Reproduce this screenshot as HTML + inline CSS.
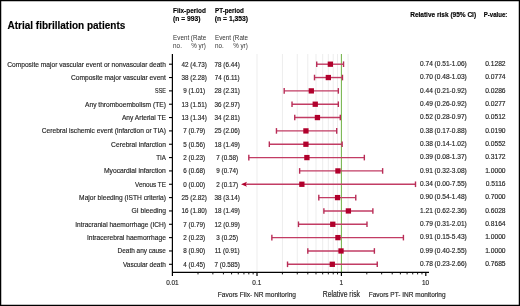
<!DOCTYPE html><html><head><meta charset="utf-8"><style>html,body{margin:0;padding:0;background:#fff;}svg{display:block;will-change:transform;}text{font-family:"Liberation Sans",sans-serif;stroke:#222;stroke-width:0.15px;} text[font-weight="bold"]{stroke:#000;stroke-width:0.14px;}</style></head><body>
<svg width="520" height="306" viewBox="0 0 520 306">
<rect x="0" y="0" width="520" height="306" fill="#fff"/>
<line x1="257.00" y1="54" x2="257.00" y2="272" stroke="#ededed" stroke-width="1"/>
<line x1="282.41" y1="54" x2="282.41" y2="272" stroke="#ededed" stroke-width="1"/>
<line x1="297.27" y1="54" x2="297.27" y2="272" stroke="#ededed" stroke-width="1"/>
<line x1="307.81" y1="54" x2="307.81" y2="272" stroke="#ededed" stroke-width="1"/>
<line x1="315.99" y1="54" x2="315.99" y2="272" stroke="#ededed" stroke-width="1"/>
<line x1="322.68" y1="54" x2="322.68" y2="272" stroke="#ededed" stroke-width="1"/>
<line x1="328.33" y1="54" x2="328.33" y2="272" stroke="#ededed" stroke-width="1"/>
<line x1="333.22" y1="54" x2="333.22" y2="272" stroke="#ededed" stroke-width="1"/>
<line x1="337.54" y1="54" x2="337.54" y2="272" stroke="#ededed" stroke-width="1"/>
<line x1="348.08" y1="54" x2="348.08" y2="272" stroke="#ededed" stroke-width="1"/>
<line x1="341.40" y1="54" x2="341.40" y2="272" stroke="#74b34a" stroke-width="1.05"/>
<line x1="172.4" y1="54" x2="172.4" y2="276" stroke="#000" stroke-width="1.2"/>
<line x1="172" y1="272.4" x2="429" y2="272.4" stroke="#000" stroke-width="1.2"/>
<line x1="257.00" y1="272" x2="257.00" y2="276" stroke="#000" stroke-width="1.2"/>
<line x1="341.40" y1="272" x2="341.40" y2="276" stroke="#000" stroke-width="1.2"/>
<line x1="425.80" y1="272" x2="425.80" y2="276" stroke="#000" stroke-width="1.2"/>
<line x1="198.01" y1="272" x2="198.01" y2="274.4" stroke="#000" stroke-width="0.9"/>
<line x1="212.87" y1="272" x2="212.87" y2="274.4" stroke="#000" stroke-width="0.9"/>
<line x1="223.41" y1="272" x2="223.41" y2="274.4" stroke="#000" stroke-width="0.9"/>
<line x1="231.59" y1="272" x2="231.59" y2="274.4" stroke="#000" stroke-width="0.9"/>
<line x1="238.28" y1="272" x2="238.28" y2="274.4" stroke="#000" stroke-width="0.9"/>
<line x1="243.93" y1="272" x2="243.93" y2="274.4" stroke="#000" stroke-width="0.9"/>
<line x1="248.82" y1="272" x2="248.82" y2="274.4" stroke="#000" stroke-width="0.9"/>
<line x1="253.14" y1="272" x2="253.14" y2="274.4" stroke="#000" stroke-width="0.9"/>
<line x1="282.41" y1="272" x2="282.41" y2="274.4" stroke="#000" stroke-width="0.9"/>
<line x1="297.27" y1="272" x2="297.27" y2="274.4" stroke="#000" stroke-width="0.9"/>
<line x1="307.81" y1="272" x2="307.81" y2="274.4" stroke="#000" stroke-width="0.9"/>
<line x1="315.99" y1="272" x2="315.99" y2="274.4" stroke="#000" stroke-width="0.9"/>
<line x1="322.68" y1="272" x2="322.68" y2="274.4" stroke="#000" stroke-width="0.9"/>
<line x1="328.33" y1="272" x2="328.33" y2="274.4" stroke="#000" stroke-width="0.9"/>
<line x1="333.22" y1="272" x2="333.22" y2="274.4" stroke="#000" stroke-width="0.9"/>
<line x1="337.54" y1="272" x2="337.54" y2="274.4" stroke="#000" stroke-width="0.9"/>
<line x1="366.81" y1="272" x2="366.81" y2="274.4" stroke="#000" stroke-width="0.9"/>
<line x1="381.67" y1="272" x2="381.67" y2="274.4" stroke="#000" stroke-width="0.9"/>
<line x1="392.21" y1="272" x2="392.21" y2="274.4" stroke="#000" stroke-width="0.9"/>
<line x1="400.39" y1="272" x2="400.39" y2="274.4" stroke="#000" stroke-width="0.9"/>
<line x1="407.08" y1="272" x2="407.08" y2="274.4" stroke="#000" stroke-width="0.9"/>
<line x1="412.73" y1="272" x2="412.73" y2="274.4" stroke="#000" stroke-width="0.9"/>
<line x1="417.62" y1="272" x2="417.62" y2="274.4" stroke="#000" stroke-width="0.9"/>
<line x1="421.94" y1="272" x2="421.94" y2="274.4" stroke="#000" stroke-width="0.9"/>
<line x1="169" y1="64.20" x2="172.4" y2="64.20" stroke="#000" stroke-width="1.1"/>
<text x="165.9" y="66.60" font-size="7.1" text-anchor="end" textLength="158.7" lengthAdjust="spacingAndGlyphs" fill="#1e1e1e">Composite major vascular event or nonvascular death</text>
<text transform="translate(194.2,66.60) scale(0.94,1)" font-size="6.7" text-anchor="middle" fill="#1e1e1e">42 (4.73)</text>
<text transform="translate(227.2,66.60) scale(0.94,1)" font-size="6.7" text-anchor="middle" fill="#1e1e1e">78 (6.44)</text>
<text transform="translate(420.0,66.00) scale(0.985,1)" font-size="6.7" fill="#1e1e1e">0.74 (0.51-1.06)</text>
<text x="505.6" y="66.00" font-size="6.7" text-anchor="end" fill="#1e1e1e">0.1282</text>
<line x1="316.72" y1="64.20" x2="343.54" y2="64.20" stroke="#c23c64" stroke-width="1.4"/>
<line x1="316.72" y1="61.40" x2="316.72" y2="67.00" stroke="#b82c56" stroke-width="1.4"/>
<line x1="343.54" y1="61.40" x2="343.54" y2="67.00" stroke="#b82c56" stroke-width="1.4"/>
<rect x="327.71" y="61.55" width="5.3" height="5.3" fill="#b1002c"/>
<line x1="169" y1="77.54" x2="172.4" y2="77.54" stroke="#000" stroke-width="1.1"/>
<text x="165.9" y="79.94" font-size="7.1" text-anchor="end" textLength="95.0" lengthAdjust="spacingAndGlyphs" fill="#1e1e1e">Composite major vascular event</text>
<text transform="translate(194.2,79.94) scale(0.94,1)" font-size="6.7" text-anchor="middle" fill="#1e1e1e">38 (2.28)</text>
<text transform="translate(227.2,79.94) scale(0.94,1)" font-size="6.7" text-anchor="middle" fill="#1e1e1e">74 (6.11)</text>
<text transform="translate(420.0,79.34) scale(0.985,1)" font-size="6.7" fill="#1e1e1e">0.70 (0.48-1.03)</text>
<text x="505.6" y="79.34" font-size="6.7" text-anchor="end" fill="#1e1e1e">0.0774</text>
<line x1="314.50" y1="77.54" x2="342.48" y2="77.54" stroke="#c23c64" stroke-width="1.4"/>
<line x1="314.50" y1="74.74" x2="314.50" y2="80.34" stroke="#b82c56" stroke-width="1.4"/>
<line x1="342.48" y1="74.74" x2="342.48" y2="80.34" stroke="#b82c56" stroke-width="1.4"/>
<rect x="325.68" y="74.89" width="5.3" height="5.3" fill="#b1002c"/>
<line x1="169" y1="90.88" x2="172.4" y2="90.88" stroke="#000" stroke-width="1.1"/>
<text x="165.9" y="93.28" font-size="7.1" text-anchor="end" textLength="10.8" lengthAdjust="spacingAndGlyphs" fill="#1e1e1e">SSE</text>
<text transform="translate(194.2,93.28) scale(0.94,1)" font-size="6.7" text-anchor="middle" fill="#1e1e1e">9 (1.01)</text>
<text transform="translate(227.2,93.28) scale(0.94,1)" font-size="6.7" text-anchor="middle" fill="#1e1e1e">28 (2.31)</text>
<text transform="translate(420.0,92.68) scale(0.985,1)" font-size="6.7" fill="#1e1e1e">0.44 (0.21-0.92)</text>
<text x="505.6" y="92.68" font-size="6.7" text-anchor="end" fill="#1e1e1e">0.0286</text>
<line x1="284.20" y1="90.88" x2="338.34" y2="90.88" stroke="#c23c64" stroke-width="1.4"/>
<line x1="284.20" y1="88.08" x2="284.20" y2="93.68" stroke="#b82c56" stroke-width="1.4"/>
<line x1="338.34" y1="88.08" x2="338.34" y2="93.68" stroke="#b82c56" stroke-width="1.4"/>
<rect x="308.66" y="88.23" width="5.3" height="5.3" fill="#b1002c"/>
<line x1="169" y1="104.22" x2="172.4" y2="104.22" stroke="#000" stroke-width="1.1"/>
<text x="165.9" y="106.62" font-size="7.1" text-anchor="end" textLength="80.9" lengthAdjust="spacingAndGlyphs" fill="#1e1e1e">Any thromboembolism (TE)</text>
<text transform="translate(194.2,106.62) scale(0.94,1)" font-size="6.7" text-anchor="middle" fill="#1e1e1e">13 (1.51)</text>
<text transform="translate(227.2,106.62) scale(0.94,1)" font-size="6.7" text-anchor="middle" fill="#1e1e1e">36 (2.97)</text>
<text transform="translate(420.0,106.02) scale(0.985,1)" font-size="6.7" fill="#1e1e1e">0.49 (0.26-0.92)</text>
<text x="505.6" y="106.02" font-size="6.7" text-anchor="end" fill="#1e1e1e">0.0277</text>
<line x1="292.02" y1="104.22" x2="338.34" y2="104.22" stroke="#c23c64" stroke-width="1.4"/>
<line x1="292.02" y1="101.42" x2="292.02" y2="107.02" stroke="#b82c56" stroke-width="1.4"/>
<line x1="338.34" y1="101.42" x2="338.34" y2="107.02" stroke="#b82c56" stroke-width="1.4"/>
<rect x="312.60" y="101.57" width="5.3" height="5.3" fill="#b1002c"/>
<line x1="169" y1="117.56" x2="172.4" y2="117.56" stroke="#000" stroke-width="1.1"/>
<text x="165.9" y="119.96" font-size="7.1" text-anchor="end" textLength="44.0" lengthAdjust="spacingAndGlyphs" fill="#1e1e1e">Any Arterial TE</text>
<text transform="translate(194.2,119.96) scale(0.94,1)" font-size="6.7" text-anchor="middle" fill="#1e1e1e">13 (1.34)</text>
<text transform="translate(227.2,119.96) scale(0.94,1)" font-size="6.7" text-anchor="middle" fill="#1e1e1e">34 (2.81)</text>
<text transform="translate(420.0,119.36) scale(0.985,1)" font-size="6.7" fill="#1e1e1e">0.52 (0.28-0.97)</text>
<text x="505.6" y="119.36" font-size="6.7" text-anchor="end" fill="#1e1e1e">0.0512</text>
<line x1="294.74" y1="117.56" x2="340.28" y2="117.56" stroke="#c23c64" stroke-width="1.4"/>
<line x1="294.74" y1="114.76" x2="294.74" y2="120.36" stroke="#b82c56" stroke-width="1.4"/>
<line x1="340.28" y1="114.76" x2="340.28" y2="120.36" stroke="#b82c56" stroke-width="1.4"/>
<rect x="314.78" y="114.91" width="5.3" height="5.3" fill="#b1002c"/>
<line x1="169" y1="130.90" x2="172.4" y2="130.90" stroke="#000" stroke-width="1.1"/>
<text x="165.9" y="133.30" font-size="7.1" text-anchor="end" textLength="124.1" lengthAdjust="spacingAndGlyphs" fill="#1e1e1e">Cerebral ischemic event (infarction or TIA)</text>
<text transform="translate(194.2,133.30) scale(0.94,1)" font-size="6.7" text-anchor="middle" fill="#1e1e1e">7 (0.79)</text>
<text transform="translate(227.2,133.30) scale(0.94,1)" font-size="6.7" text-anchor="middle" fill="#1e1e1e">25 (2.06)</text>
<text transform="translate(420.0,132.70) scale(0.985,1)" font-size="6.7" fill="#1e1e1e">0.38 (0.17-0.88)</text>
<text x="505.6" y="132.70" font-size="6.7" text-anchor="end" fill="#1e1e1e">0.0190</text>
<line x1="276.45" y1="130.90" x2="336.71" y2="130.90" stroke="#c23c64" stroke-width="1.4"/>
<line x1="276.45" y1="128.10" x2="276.45" y2="133.70" stroke="#b82c56" stroke-width="1.4"/>
<line x1="336.71" y1="128.10" x2="336.71" y2="133.70" stroke="#b82c56" stroke-width="1.4"/>
<rect x="303.28" y="128.25" width="5.3" height="5.3" fill="#b1002c"/>
<line x1="169" y1="144.24" x2="172.4" y2="144.24" stroke="#000" stroke-width="1.1"/>
<text x="165.9" y="146.64" font-size="7.1" text-anchor="end" textLength="54.8" lengthAdjust="spacingAndGlyphs" fill="#1e1e1e">Cerebral infarction</text>
<text transform="translate(194.2,146.64) scale(0.94,1)" font-size="6.7" text-anchor="middle" fill="#1e1e1e">5 (0.56)</text>
<text transform="translate(227.2,146.64) scale(0.94,1)" font-size="6.7" text-anchor="middle" fill="#1e1e1e">18 (1.49)</text>
<text transform="translate(420.0,146.04) scale(0.985,1)" font-size="6.7" fill="#1e1e1e">0.38 (0.14-1.02)</text>
<text x="505.6" y="146.04" font-size="6.7" text-anchor="end" fill="#1e1e1e">0.0552</text>
<line x1="269.33" y1="144.24" x2="342.13" y2="144.24" stroke="#c23c64" stroke-width="1.4"/>
<line x1="269.33" y1="141.44" x2="269.33" y2="147.04" stroke="#b82c56" stroke-width="1.4"/>
<line x1="342.13" y1="141.44" x2="342.13" y2="147.04" stroke="#b82c56" stroke-width="1.4"/>
<rect x="303.28" y="141.59" width="5.3" height="5.3" fill="#b1002c"/>
<line x1="169" y1="157.58" x2="172.4" y2="157.58" stroke="#000" stroke-width="1.1"/>
<text x="165.9" y="159.98" font-size="7.1" text-anchor="end" textLength="9.7" lengthAdjust="spacingAndGlyphs" fill="#1e1e1e">TIA</text>
<text transform="translate(194.2,159.98) scale(0.94,1)" font-size="6.7" text-anchor="middle" fill="#1e1e1e">2 (0.23)</text>
<text transform="translate(227.2,159.98) scale(0.94,1)" font-size="6.7" text-anchor="middle" fill="#1e1e1e">7 (0.58)</text>
<text transform="translate(420.0,159.38) scale(0.985,1)" font-size="6.7" fill="#1e1e1e">0.39 (0.08-1.37)</text>
<text x="505.6" y="159.38" font-size="6.7" text-anchor="end" fill="#1e1e1e">0.3172</text>
<line x1="248.82" y1="157.58" x2="364.34" y2="157.58" stroke="#c23c64" stroke-width="1.4"/>
<line x1="248.82" y1="154.78" x2="248.82" y2="160.38" stroke="#b82c56" stroke-width="1.4"/>
<line x1="364.34" y1="154.78" x2="364.34" y2="160.38" stroke="#b82c56" stroke-width="1.4"/>
<rect x="304.24" y="154.93" width="5.3" height="5.3" fill="#b1002c"/>
<line x1="169" y1="170.92" x2="172.4" y2="170.92" stroke="#000" stroke-width="1.1"/>
<text x="165.9" y="173.32" font-size="7.1" text-anchor="end" textLength="62.0" lengthAdjust="spacingAndGlyphs" fill="#1e1e1e">Myocardial infarction</text>
<text transform="translate(194.2,173.32) scale(0.94,1)" font-size="6.7" text-anchor="middle" fill="#1e1e1e">6 (0.68)</text>
<text transform="translate(227.2,173.32) scale(0.94,1)" font-size="6.7" text-anchor="middle" fill="#1e1e1e">9 (0.74)</text>
<text transform="translate(420.0,172.72) scale(0.985,1)" font-size="6.7" fill="#1e1e1e">0.91 (0.32-3.08)</text>
<text x="505.6" y="172.72" font-size="6.7" text-anchor="end" fill="#1e1e1e">1.0000</text>
<line x1="299.63" y1="170.92" x2="382.63" y2="170.92" stroke="#c23c64" stroke-width="1.4"/>
<line x1="299.63" y1="168.12" x2="299.63" y2="173.72" stroke="#b82c56" stroke-width="1.4"/>
<line x1="382.63" y1="168.12" x2="382.63" y2="173.72" stroke="#b82c56" stroke-width="1.4"/>
<rect x="335.29" y="168.27" width="5.3" height="5.3" fill="#b1002c"/>
<line x1="169" y1="184.26" x2="172.4" y2="184.26" stroke="#000" stroke-width="1.1"/>
<text x="165.9" y="186.66" font-size="7.1" text-anchor="end" textLength="30.9" lengthAdjust="spacingAndGlyphs" fill="#1e1e1e">Venous TE</text>
<text transform="translate(194.2,186.66) scale(0.94,1)" font-size="6.7" text-anchor="middle" fill="#1e1e1e">0 (0.00)</text>
<text transform="translate(227.2,186.66) scale(0.94,1)" font-size="6.7" text-anchor="middle" fill="#1e1e1e">2 (0.17)</text>
<text transform="translate(420.0,186.06) scale(0.985,1)" font-size="6.7" fill="#1e1e1e">0.34 (0.00-7.55)</text>
<text x="505.6" y="186.06" font-size="6.7" text-anchor="end" fill="#1e1e1e">0.5116</text>
<line x1="245.00" y1="184.26" x2="415.50" y2="184.26" stroke="#c23c64" stroke-width="1.4"/>
<path d="M241.00,184.26 L247.00,181.66 L245.60,184.26 L247.00,186.86 Z" fill="#b1002c"/>
<line x1="415.50" y1="181.46" x2="415.50" y2="187.06" stroke="#b82c56" stroke-width="1.4"/>
<rect x="299.21" y="181.61" width="5.3" height="5.3" fill="#b1002c"/>
<line x1="169" y1="197.60" x2="172.4" y2="197.60" stroke="#000" stroke-width="1.1"/>
<text x="165.9" y="200.00" font-size="7.1" text-anchor="end" textLength="86.8" lengthAdjust="spacingAndGlyphs" fill="#1e1e1e">Major bleeding (ISTH criteria)</text>
<text transform="translate(194.2,200.00) scale(0.94,1)" font-size="6.7" text-anchor="middle" fill="#1e1e1e">25 (2.82)</text>
<text transform="translate(227.2,200.00) scale(0.94,1)" font-size="6.7" text-anchor="middle" fill="#1e1e1e">38 (3.14)</text>
<text transform="translate(420.0,199.40) scale(0.985,1)" font-size="6.7" fill="#1e1e1e">0.90 (0.54-1.48)</text>
<text x="505.6" y="199.40" font-size="6.7" text-anchor="end" fill="#1e1e1e">0.7000</text>
<line x1="318.81" y1="197.60" x2="355.77" y2="197.60" stroke="#c23c64" stroke-width="1.4"/>
<line x1="318.81" y1="194.80" x2="318.81" y2="200.40" stroke="#b82c56" stroke-width="1.4"/>
<line x1="355.77" y1="194.80" x2="355.77" y2="200.40" stroke="#b82c56" stroke-width="1.4"/>
<rect x="334.89" y="194.95" width="5.3" height="5.3" fill="#b1002c"/>
<line x1="169" y1="210.94" x2="172.4" y2="210.94" stroke="#000" stroke-width="1.1"/>
<text x="165.9" y="213.34" font-size="7.1" text-anchor="end" textLength="34.5" lengthAdjust="spacingAndGlyphs" fill="#1e1e1e">GI bleeding</text>
<text transform="translate(194.2,213.34) scale(0.94,1)" font-size="6.7" text-anchor="middle" fill="#1e1e1e">16 (1.80)</text>
<text transform="translate(227.2,213.34) scale(0.94,1)" font-size="6.7" text-anchor="middle" fill="#1e1e1e">18 (1.49)</text>
<text transform="translate(420.0,212.74) scale(0.985,1)" font-size="6.7" fill="#1e1e1e">1.21 (0.62-2.36)</text>
<text x="505.6" y="212.74" font-size="6.7" text-anchor="end" fill="#1e1e1e">0.6028</text>
<line x1="323.88" y1="210.94" x2="372.87" y2="210.94" stroke="#c23c64" stroke-width="1.4"/>
<line x1="323.88" y1="208.14" x2="323.88" y2="213.74" stroke="#b82c56" stroke-width="1.4"/>
<line x1="372.87" y1="208.14" x2="372.87" y2="213.74" stroke="#b82c56" stroke-width="1.4"/>
<rect x="345.74" y="208.29" width="5.3" height="5.3" fill="#b1002c"/>
<line x1="169" y1="224.28" x2="172.4" y2="224.28" stroke="#000" stroke-width="1.1"/>
<text x="165.9" y="226.68" font-size="7.1" text-anchor="end" textLength="90.7" lengthAdjust="spacingAndGlyphs" fill="#1e1e1e">Intracranial haemorrhage (ICH)</text>
<text transform="translate(194.2,226.68) scale(0.94,1)" font-size="6.7" text-anchor="middle" fill="#1e1e1e">7 (0.79)</text>
<text transform="translate(227.2,226.68) scale(0.94,1)" font-size="6.7" text-anchor="middle" fill="#1e1e1e">12 (0.99)</text>
<text transform="translate(420.0,226.08) scale(0.985,1)" font-size="6.7" fill="#1e1e1e">0.79 (0.31-2.01)</text>
<text x="505.6" y="226.08" font-size="6.7" text-anchor="end" fill="#1e1e1e">0.8164</text>
<line x1="298.47" y1="224.28" x2="366.99" y2="224.28" stroke="#c23c64" stroke-width="1.4"/>
<line x1="298.47" y1="221.48" x2="298.47" y2="227.08" stroke="#b82c56" stroke-width="1.4"/>
<line x1="366.99" y1="221.48" x2="366.99" y2="227.08" stroke="#b82c56" stroke-width="1.4"/>
<rect x="330.11" y="221.63" width="5.3" height="5.3" fill="#b1002c"/>
<line x1="169" y1="237.62" x2="172.4" y2="237.62" stroke="#000" stroke-width="1.1"/>
<text x="165.9" y="240.02" font-size="7.1" text-anchor="end" textLength="79.0" lengthAdjust="spacingAndGlyphs" fill="#1e1e1e">Intracerebral haemorrhage</text>
<text transform="translate(194.2,240.02) scale(0.94,1)" font-size="6.7" text-anchor="middle" fill="#1e1e1e">2 (0.23)</text>
<text transform="translate(227.2,240.02) scale(0.94,1)" font-size="6.7" text-anchor="middle" fill="#1e1e1e">3 (0.25)</text>
<text transform="translate(420.0,239.42) scale(0.985,1)" font-size="6.7" fill="#1e1e1e">0.91 (0.15-5.43)</text>
<text x="505.6" y="239.42" font-size="6.7" text-anchor="end" fill="#1e1e1e">1.0000</text>
<line x1="271.86" y1="237.62" x2="403.42" y2="237.62" stroke="#c23c64" stroke-width="1.4"/>
<line x1="271.86" y1="234.82" x2="271.86" y2="240.42" stroke="#b82c56" stroke-width="1.4"/>
<line x1="403.42" y1="234.82" x2="403.42" y2="240.42" stroke="#b82c56" stroke-width="1.4"/>
<rect x="335.29" y="234.97" width="5.3" height="5.3" fill="#b1002c"/>
<line x1="169" y1="250.96" x2="172.4" y2="250.96" stroke="#000" stroke-width="1.1"/>
<text x="165.9" y="253.36" font-size="7.1" text-anchor="end" textLength="48.3" lengthAdjust="spacingAndGlyphs" fill="#1e1e1e">Death any cause</text>
<text transform="translate(194.2,253.36) scale(0.94,1)" font-size="6.7" text-anchor="middle" fill="#1e1e1e">8 (0.90)</text>
<text transform="translate(227.2,253.36) scale(0.94,1)" font-size="6.7" text-anchor="middle" fill="#1e1e1e">11 (0.91)</text>
<text transform="translate(420.0,252.76) scale(0.985,1)" font-size="6.7" fill="#1e1e1e">0.99 (0.40-2.55)</text>
<text x="505.6" y="252.76" font-size="6.7" text-anchor="end" fill="#1e1e1e">1.0000</text>
<line x1="307.81" y1="250.96" x2="374.39" y2="250.96" stroke="#c23c64" stroke-width="1.4"/>
<line x1="307.81" y1="248.16" x2="307.81" y2="253.76" stroke="#b82c56" stroke-width="1.4"/>
<line x1="374.39" y1="248.16" x2="374.39" y2="253.76" stroke="#b82c56" stroke-width="1.4"/>
<rect x="338.38" y="248.31" width="5.3" height="5.3" fill="#b1002c"/>
<line x1="169" y1="264.30" x2="172.4" y2="264.30" stroke="#000" stroke-width="1.1"/>
<text x="165.9" y="266.70" font-size="7.1" text-anchor="end" textLength="43.0" lengthAdjust="spacingAndGlyphs" fill="#1e1e1e">Vascular death</text>
<text transform="translate(194.2,266.70) scale(0.94,1)" font-size="6.7" text-anchor="middle" fill="#1e1e1e">4 (0.45)</text>
<text transform="translate(227.2,266.70) scale(0.94,1)" font-size="6.7" text-anchor="middle" fill="#1e1e1e">7 (0.585)</text>
<text transform="translate(420.0,266.10) scale(0.985,1)" font-size="6.7" fill="#1e1e1e">0.78 (0.23-2.66)</text>
<text x="505.6" y="266.10" font-size="6.7" text-anchor="end" fill="#1e1e1e">0.7685</text>
<line x1="287.53" y1="264.30" x2="377.26" y2="264.30" stroke="#c23c64" stroke-width="1.4"/>
<line x1="287.53" y1="261.50" x2="287.53" y2="267.10" stroke="#b82c56" stroke-width="1.4"/>
<line x1="377.26" y1="261.50" x2="377.26" y2="267.10" stroke="#b82c56" stroke-width="1.4"/>
<rect x="329.64" y="261.65" width="5.3" height="5.3" fill="#b1002c"/>
<text x="7.5" y="28.7" font-size="10.2" font-weight="bold" textLength="117.8" lengthAdjust="spacingAndGlyphs" fill="#000">Atrial fibrillation patients</text>
<text x="173.1" y="12.6" font-size="6.4" font-weight="bold" textLength="32.7" lengthAdjust="spacingAndGlyphs" fill="#000">Fiix-period</text>
<text x="173.1" y="20.5" font-size="6.4" font-weight="bold" textLength="27.3" lengthAdjust="spacingAndGlyphs" fill="#000">(n = 993)</text>
<text x="215.0" y="12.6" font-size="6.4" font-weight="bold" textLength="28.8" lengthAdjust="spacingAndGlyphs" fill="#000">PT-period</text>
<text x="214.8" y="20.5" font-size="6.4" font-weight="bold" textLength="33.3" lengthAdjust="spacingAndGlyphs" fill="#000">(n = 1,353)</text>
<text x="173.1" y="40.0" font-size="6.5" textLength="33.1" lengthAdjust="spacingAndGlyphs" fill="#333" style="stroke:none">Event (Rate</text>
<text x="173.1" y="48.2" font-size="6.5" textLength="8.8" lengthAdjust="spacingAndGlyphs" fill="#333" style="stroke:none">no.</text>
<text x="205.89999999999998" y="48.2" font-size="6.5" text-anchor="end" textLength="14.6" lengthAdjust="spacingAndGlyphs" fill="#333" style="stroke:none">% yr)</text>
<text x="215.0" y="40.0" font-size="6.5" textLength="33.1" lengthAdjust="spacingAndGlyphs" fill="#333" style="stroke:none">Event (Rate</text>
<text x="215.0" y="48.2" font-size="6.5" textLength="8.8" lengthAdjust="spacingAndGlyphs" fill="#333" style="stroke:none">no.</text>
<text x="247.8" y="48.2" font-size="6.5" text-anchor="end" textLength="14.6" lengthAdjust="spacingAndGlyphs" fill="#333" style="stroke:none">% yr)</text>
<text x="410.2" y="16.7" font-size="6.5" font-weight="bold" textLength="65.9" lengthAdjust="spacingAndGlyphs" fill="#000">Relative risk (95% CI)</text>
<text x="483.7" y="16.8" font-size="6.5" font-weight="bold" textLength="23.7" lengthAdjust="spacingAndGlyphs" fill="#000">P-value:</text>
<text transform="translate(172.40,284.6) scale(0.88,1)" font-size="7.3" text-anchor="middle" fill="#1e1e1e">0.01</text>
<text transform="translate(256.80,284.6) scale(0.88,1)" font-size="7.3" text-anchor="middle" fill="#1e1e1e">0.1</text>
<text transform="translate(341.20,284.6) scale(0.88,1)" font-size="7.3" text-anchor="middle" fill="#1e1e1e">1</text>
<text transform="translate(425.60,284.6) scale(0.88,1)" font-size="7.3" text-anchor="middle" fill="#1e1e1e">10</text>
<text x="217.75" y="297.1" font-size="6.7" textLength="78.25" lengthAdjust="spacingAndGlyphs" fill="#1e1e1e">Favors Fiix- NR monitoring</text>
<text x="368.7" y="297.1" font-size="6.7" textLength="76.9" lengthAdjust="spacingAndGlyphs" fill="#1e1e1e">Favors PT- INR monitoring</text>
<text x="322.8" y="296.7" font-size="9" textLength="37.2" lengthAdjust="spacingAndGlyphs" fill="#1e1e1e">Relative risk</text>
<rect x="0.625" y="0.625" width="518.75" height="304.75" fill="none" stroke="#000" stroke-width="1.25"/>
</svg></body></html>
